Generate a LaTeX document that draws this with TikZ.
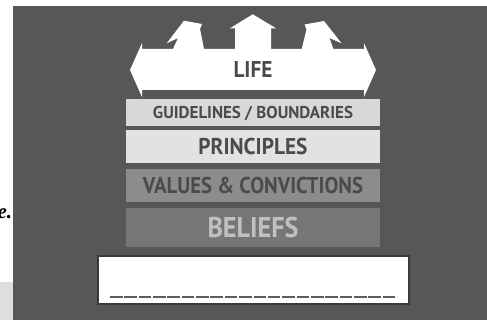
\documentclass[tikz,border=0pt]{standalone}
\usepackage{fontspec}
\usepackage{graphicx}
\setmainfont{PT Sans}
\newfontfamily\serifbi{Liberation Serif}
\definecolor{panel}{HTML}{575757}
\definecolor{pale}{HTML}{DEDEDE}
\definecolor{darktext}{HTML}{4B4B4B}
\definecolor{guidefill}{HTML}{D8D8D8}
\definecolor{princfill}{HTML}{E2E2E2}
\definecolor{valfill}{HTML}{8C8C8C}
\definecolor{belfill}{HTML}{767676}
\definecolor{beltext}{HTML}{C0C0C0}
\definecolor{boxline}{HTML}{3A3A3A}
\definecolor{dashcol}{HTML}{5E5E5E}
\newcommand\captext[3]{\resizebox{#1}{#2}{\raisebox{0pt}[\fontcharht\font`\E][0pt]{#3}}}
\begin{document}
\begin{tikzpicture}[x=1pt,y=-1pt,
  bar/.style={rectangle, inner sep=0pt, minimum width=254pt, text=darktext, font=\bfseries},
  lbl/.style={inner sep=0pt, text=darktext, font=\bfseries}]
\useasboundingbox (0,0) rectangle (487,320);
\fill[white] (0,0) rectangle (487,320);
\fill[pale] (0,281.7) rectangle (13,320);
\node[anchor=base east, inner sep=0pt, font=\serifbi\bfseries\itshape\fontsize{21}{21}\selectfont] (etext) at (12.3,218.5) {e.};
\fill[panel] (13,6) rectangle (487,320);
% big arrow with three small arrows
\fill[white] (130,70) -- (142,43) -- (142,49) -- (173,49) -- (178,38) -- (166.7,43.3) -- (184,20.7) -- (202,24) -- (200,29) -- (204,49)
  -- (235,49) -- (235,28.3) -- (230,28.3) -- (252.7,14.3) -- (276,28.3) -- (271,28.3) -- (271,49)
  -- (301.7,49) -- (306.5,29.5) -- (304.5,24.5) -- (324,21) -- (341.5,43.3) -- (329.5,38) -- (333.3,49)
  -- (364,49) -- (364,43) -- (376,70) -- (364,97) -- (364,90) -- (142,90) -- (142,97) -- cycle;
\node[lbl] (life) at (253,70) {\captext{39pt}{16pt}{LIFE}};
\node[bar, fill=guidefill, minimum height=27pt] (guide) at (253,112.5) {\captext{200pt}{12pt}{GUIDELINES / BOUNDARIES}};
\node[bar, fill=princfill, minimum height=33pt] (princ) at (253,146.5) {\captext{109pt}{16pt}{PRINCIPLES}};
\node[bar, fill=valfill, minimum height=33pt, text=darktext] (values) at (253,185.5) {\captext{220pt}{16pt}{VALUES \& CONVICTIONS}};
\node[bar, fill=belfill, minimum height=39pt, text=beltext] (beliefs) at (253,227.5) {\captext{91pt}{20pt}{BELIEFS}};
\node[draw=boxline, line width=2pt, fill=white, minimum width=311pt, minimum height=48pt, inner sep=0pt] (box) at (253.5,280) {};
\draw[dashcol, line width=2.3pt, dash pattern=on 12.6pt off 1.75pt] (110,296.7) -- (397,296.7);
\end{tikzpicture}
\end{document}
